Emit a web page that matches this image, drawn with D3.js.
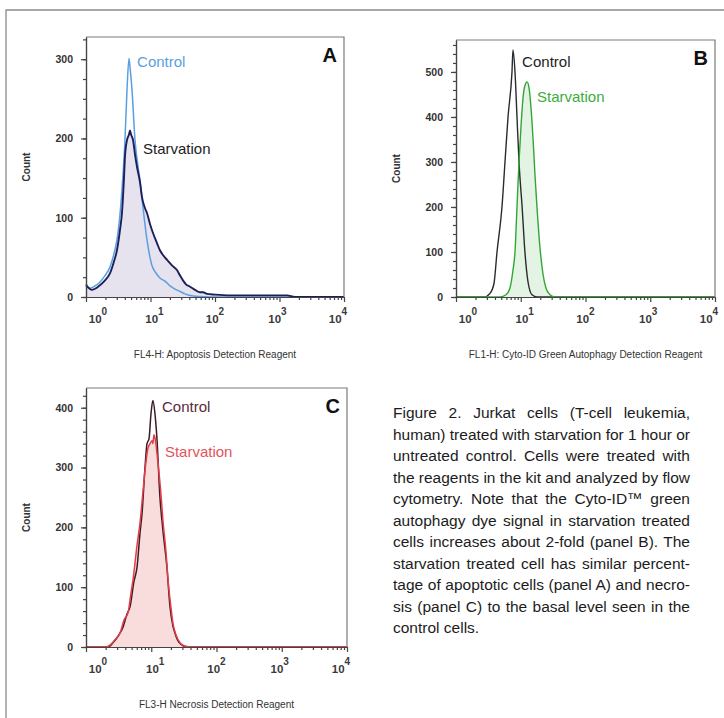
<!DOCTYPE html>
<meta charset="utf-8">
<script src="https://d3js.org/d3.v7.min.js"></script>
<style>
body { margin: 0; background: #fff; }
svg { font-family: "Liberation Sans", Arial, sans-serif; }
</style>
<body>
<script>
// histogram data: [fluorescence intensity, count]
// panel A - FL4-H apoptosis reagent
var aControl = [[1,17],[1.15,11],[1.38,14],[1.65,19],[1.97,27],[2.36,38],[2.72,55],[3.02,72],[3.37,105],[3.61,135],
  [4.02,198],[4.32,261],[4.64,301],[4.81,290],[5.17,261],[5.75,198],[6.40,165],[6.87,147],[7.65,113],[8.82,72],
  [9.82,50],[10.5,40],[12.2,30],[14.0,24],[16.8,20],[20.1,14],[24.0,10],[28.7,7],[34.3,4],[41.0,2],[58.5,0.5],[83.6,0],[10000,0]];
var aStarv = [[1,15],[1.24,9],[1.43,11],[1.65,15],[1.97,21],[2.36,30],[2.72,45],[3.02,59],[3.37,85],[3.61,106],
  [3.88,150],[4.02,177],[4.32,198],[4.64,205],[4.81,210],[4.99,205],[5.36,198],[5.75,180],[6.18,164],[6.87,145],
  [7.38,126],[8.22,112],[8.82,106],[9.82,92],[10.9,81],[12.6,68],[14.0,59],[15.6,53],[18.0,47],[21.5,40],[25.7,34],
  [28.7,27],[31.9,21],[35.5,16],[41.0,13],[49.0,9],[58.5,6],[65.2,6],[75.2,4],[100,3],[171,2],[499,2],[1307,2],[1738,0],[10000,0]];
// panel B - FL1-H Cyto-ID green
var bControl = [[1,0],[2.71,0],[3.35,8],[3.86,30],[4.30,100],[5.13,200],[5.71,300],[6.36,400],[7.32,500],[7.59,549],
  [8.15,500],[8.75,400],[9.40,300],[10.5,200],[11.6,100],[12.9,35],[14.9,5],[17.8,0],[10000,0]];
var bStarv = [[1,0],[4.78,0],[5.92,5],[6.82,20],[7.59,60],[8.15,100],[8.75,200],[9.40,300],[10.1,380],[10.8,440],
  [11.6,470],[12.5,478],[13.4,465],[14.4,420],[15.5,350],[16.6,270],[17.8,200],[19.8,110],[22.1,50],[24.5,20],
  [28.3,5],[33.8,0],[10000,0]];
// panel C - FL3-H necrosis reagent
var cControl = [[1,0],[2.17,0],[2.59,7],[3.09,18],[3.69,33],[4.25,55],[4.72,67],[5.44,110],[6.05,133],[6.72,190],
  [7.22,223],[8.02,300],[8.61,340],[9.24,348],[9.91,390],[10.6,412],[11.4,390],[12.2,350],[13.6,250],[15.1,195],
  [17.4,133],[19.4,67],[21.5,35],[23.1,23],[25.7,10],[29.6,3],[34.1,0],[10000,0]];
var cStarv = [[1,0],[2.03,0],[2.33,3],[2.78,12],[3.32,23],[3.82,45],[4.40,57],[4.89,90],[5.25,112],[6.05,170],
  [6.72,207],[7.47,260],[8.02,295],[8.92,333],[9.57,340],[10.3,345],[10.6,340],[11.0,355],[11.4,350],[12.7,307],
  [14.1,255],[15.1,212],[16.8,160],[18.1,112],[20.1,65],[21.5,40],[24.0,20],[27.6,7],[31.8,2],[39.3,0],[10000,0]];

var xExponents = [0, 1, 2, 3, 4];
var aYTicks = [0, 100, 200, 300];
var bYTicks = [0, 100, 200, 300, 400, 500];
var cYTicks = [0, 100, 200, 300, 400];
var seriesNames = ["Control", "Starvation"];
var panelLetters = ["A", "B", "C"];
var axisTitles = ["FL4-H: Apoptosis Detection Reagent",
  "FL1-H: Cyto-ID Green Autophagy Detection Reagent",
  "FL3-H Necrosis Detection Reagent"];
var captionLines = [
  "Figure 2. Jurkat cells (T-cell leukemia,",
  "human) treated with starvation for 1 hour or",
  "untreated control. Cells were treated with",
  "the reagents in the kit and analyzed by flow",
  "cytometry. Note that the Cyto-ID\u2122 green",
  "autophagy dye signal in starvation treated",
  "cells increases about 2-fold (panel B). The",
  "starvation treated cell has similar percent-",
  "tage of apoptotic cells (panel A) and necro-",
  "sis (panel C) to the basal level seen in the",
  "control cells."
];

var svg = d3.select("body").append("svg")
  .attr("width", 724)
  .attr("height", 718);

// page frame
svg.append("path")
  .attr("d", "M6,718V10H724")
  .attr("fill", "none")
  .attr("stroke", "#8c8c8c")
  .attr("stroke-width", 1.3);

var panels = [
  {left: 86, top: 37, right: 344, bottom: 297, yMax: 328, yTicks: aYTicks, minorStep: 25, minorMax: 325,
   control: aControl, starv: aStarv, letter: 0,
   ctrlColor: "#5b9fe3", ctrlText: "#5ba0e0", ctrlWidth: 1.5,
   starvColor: "#1d1f5c", starvText: "#222", starvWidth: 1.9, fill: "#e6e3ee",
   ctrlLabel: [6.2, 290], starvLabel: [7.65, 180]},
  {left: 456, top: 40, right: 715, bottom: 297, yMax: 571, yTicks: bYTicks, minorStep: 20, minorMax: 560,
   control: bControl, starv: bStarv, letter: 1,
   ctrlColor: "#2b2b2b", ctrlText: "#222", ctrlWidth: 1.4,
   starvColor: "#33a534", starvText: "#3aae3a", starvWidth: 1.4, fill: "#e4f4e4",
   ctrlLabel: [10.5, 511], starvLabel: [17.8, 433]},
  {left: 86, top: 388, right: 347, bottom: 647, yMax: 433, yTicks: cYTicks, minorStep: 20, minorMax: 420,
   control: cControl, starv: cStarv, letter: 2,
   ctrlColor: "#3a1c24", ctrlText: "#5a2a3a", ctrlWidth: 1.5,
   starvColor: "#e43d4a", starvText: "#e3545c", starvWidth: 1.5, fill: "#f9dcdc",
   ctrlLabel: [14.6, 393], starvLabel: [16.2, 318]}
];

panels.forEach(drawPanel);

function drawPanel(p) {
  var x = d3.scaleLog().domain([1, 1e4]).range([p.left, p.right]);
  var y = d3.scaleLinear().domain([0, p.yMax]).range([p.bottom, p.top]);
  var g = svg.append("g");

  var area = d3.area()
    .x(function(d) { return x(d[0]); })
    .y0(y(0))
    .y1(function(d) { return y(d[1]); })
    .curve(d3.curveMonotoneX);
  var line = d3.line()
    .x(function(d) { return x(d[0]); })
    .y(function(d) { return y(d[1]); })
    .curve(d3.curveMonotoneX);

  g.append("path").datum(p.starv).attr("d", area).attr("fill", p.fill);
  g.append("path").datum(p.control).attr("d", line)
    .attr("fill", "none").attr("stroke", p.ctrlColor).attr("stroke-width", p.ctrlWidth);
  g.append("path").datum(p.starv).attr("d", line)
    .attr("fill", "none").attr("stroke", p.starvColor).attr("stroke-width", p.starvWidth);

  // top and right of the plot box
  g.append("path")
    .attr("d", "M" + p.left + "," + p.top + "H" + p.right + "V" + p.bottom)
    .attr("fill", "none").attr("stroke", "#7a7a7a").attr("stroke-width", 1.2);

  // y axis
  var yMinor = g.append("g")
    .attr("transform", "translate(" + p.left + ",0)")
    .call(d3.axisLeft(y).tickValues(d3.range(0, p.minorMax + 1, p.minorStep))
      .tickSize(3).tickSizeOuter(0).tickFormat(""));
  var yAx = g.append("g")
    .attr("transform", "translate(" + p.left + ",0)")
    .call(d3.axisLeft(y).tickValues(p.yTicks).tickSize(5).tickSizeOuter(0).tickPadding(8));
  yAx.selectAll("text").attr("font-size", "10.5px").attr("font-weight", "bold")
    .attr("fill", "#333").attr("font-family", "Liberation Sans, Arial, sans-serif");

  // x axis, log decades with minor ticks
  var minor = [];
  for (var k = 0; k < 4; k++) for (var m = 2; m < 10; m++) minor.push(m * Math.pow(10, k));
  g.append("g")
    .attr("transform", "translate(0," + p.bottom + ")")
    .call(d3.axisBottom(x).tickValues(minor).tickSize(3).tickSizeOuter(0).tickFormat(""));
  g.append("g")
    .attr("transform", "translate(0," + p.bottom + ")")
    .call(d3.axisBottom(x).tickValues(xExponents.map(function(e) { return Math.pow(10, e); }))
      .tickSize(5).tickSizeOuter(0).tickFormat(""));

  g.selectAll(".domain, .tick line").attr("stroke", "#444").attr("stroke-width", 1.2);

  var labelShift = [12, 4, 0, -2, -6];
  xExponents.forEach(function(e, i) {
    var t = g.append("text")
      .attr("x", x(Math.pow(10, e)) + labelShift[i])
      .attr("y", p.bottom + 26)
      .attr("text-anchor", "middle")
      .attr("font-size", "11.5px")
      .attr("font-weight", "bold")
      .attr("fill", "#3a3a3a");
    t.append("tspan").text("10");
    t.append("tspan").attr("dy", -8).attr("font-size", "10px").text(e);
  });

  // axis titles
  g.append("text")
    .attr("transform", "translate(" + (p.left - 56) + "," + ((p.top + p.bottom) / 2) + ") rotate(-90)")
    .attr("text-anchor", "middle")
    .attr("font-size", "10px")
    .attr("font-weight", "bold")
    .attr("fill", "#333")
    .text("Count");
  g.append("text")
    .attr("x", (p.left + p.right) / 2)
    .attr("y", p.bottom + 61)
    .attr("text-anchor", "middle")
    .attr("font-size", "10px")
    .attr("fill", "#333")
    .text(axisTitles[p.letter]);

  // panel letter
  g.append("text")
    .attr("x", p.right - 7)
    .attr("y", p.top + 25)
    .attr("text-anchor", "end")
    .attr("font-size", "20px")
    .attr("font-weight", "bold")
    .attr("fill", "#111")
    .text(panelLetters[p.letter]);

  // series labels
  g.append("text")
    .attr("x", x(p.ctrlLabel[0])).attr("y", y(p.ctrlLabel[1]))
    .attr("font-size", "15px").attr("fill", p.ctrlText)
    .text(seriesNames[0]);
  g.append("text")
    .attr("x", x(p.starvLabel[0])).attr("y", y(p.starvLabel[1]))
    .attr("font-size", "15px").attr("fill", p.starvText)
    .text(seriesNames[1]);
}

// caption, justified
var capLeft = 393, capWidth = 297, capTop = 418, capLead = 21.5;
captionLines.forEach(function(s, i) {
  var t = svg.append("text")
    .attr("x", capLeft)
    .attr("y", capTop + i * capLead)
    .attr("font-size", "15.5px")
    .attr("fill", "#1c1c1c")
    .text(s);
  if (i < captionLines.length - 1) {
    var w = t.node().getComputedTextLength();
    var gaps = s.split(" ").length - 1;
    if (w < capWidth && gaps > 0) {
      t.attr("word-spacing", ((capWidth - w) / gaps) + "px");
    } else if (w > capWidth) {
      t.attr("textLength", capWidth).attr("lengthAdjust", "spacingAndGlyphs");
    }
  }
});
</script>
</body>
